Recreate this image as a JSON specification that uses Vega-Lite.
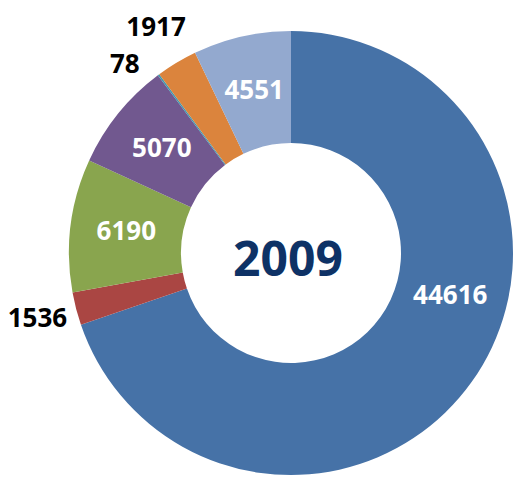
{
  "$schema": "https://vega.github.io/schema/vega-lite/v6.json",
  "width": 448,
  "height": 448,
  "autosize": {"type": "none"},
  "padding": {"left": 67, "top": 29, "right": 0, "bottom": 0},
  "background": "white",
  "view": {"stroke": null},
  "data": {
    "values": [
      {"k": 1, "value": 44616},
      {"k": 2, "value": 1536},
      {"k": 3, "value": 6190},
      {"k": 4, "value": 5070},
      {"k": 5, "value": 78},
      {"k": 6, "value": 1917},
      {"k": 7, "value": 4551}
    ]
  },
  "encoding": {
    "theta": {"field": "value", "type": "quantitative", "stack": true},
    "order": {"field": "k", "type": "quantitative"}
  },
  "layer": [
    {
      "mark": {"type": "arc", "innerRadius": 110, "outerRadius": 222},
      "encoding": {
        "color": {
          "field": "k",
          "type": "nominal",
          "scale": {"domain": [1, 2, 3, 4, 5, 6, 7], "range": ["#4672A7", "#AA4643", "#89A54E", "#71588F", "#4198AF", "#DB843D", "#93A9CF"]},
          "legend": null
        }
      }
    },
    {
      "mark": {"type": "text", "radius": 166, "font": "Open Sans", "fontWeight": "bold", "fontSize": 26, "color": "white", "align": "center", "baseline": "middle"},
      "encoding": {
        "text": {"condition": {"test": "datum.value > 4000 && datum.value < 40000", "field": "value", "type": "nominal"}, "value": ""}
      }
    },
    {
      "mark": {"type": "text", "radius": 165, "dx": 25, "dy": -53, "font": "Open Sans", "fontWeight": "bold", "fontSize": 26, "color": "white", "align": "center", "baseline": "middle"},
      "encoding": {
        "text": {"condition": {"test": "datum.value > 40000", "field": "value", "type": "nominal"}, "value": ""}
      }
    },
    {
      "mark": {"type": "text", "radius": 262, "font": "Open Sans", "fontWeight": "bold", "fontSize": 26, "color": "black", "align": "center", "baseline": "middle"},
      "encoding": {
        "text": {"condition": {"test": "datum.value == 1536 || datum.value == 1917", "field": "value", "type": "nominal"}, "value": ""}
      }
    },
    {
      "mark": {"type": "text", "radius": 250, "dx": -17, "dy": 13, "font": "Open Sans", "fontWeight": "bold", "fontSize": 26, "color": "black", "align": "center", "baseline": "middle"},
      "encoding": {
        "text": {"condition": {"test": "datum.value < 100", "field": "value", "type": "nominal"}, "value": ""}
      }
    },
    {
      "data": {"values": [{"t": "2009"}]},
      "mark": {"type": "text", "dx": -3, "dy": 9, "font": "Open Sans", "fontWeight": "bold", "fontSize": 48, "color": "#0E3266", "align": "center", "baseline": "middle"},
      "encoding": {
        "theta": null,
        "order": null,
        "text": {"field": "t", "type": "nominal"}
      }
    }
  ]
}
